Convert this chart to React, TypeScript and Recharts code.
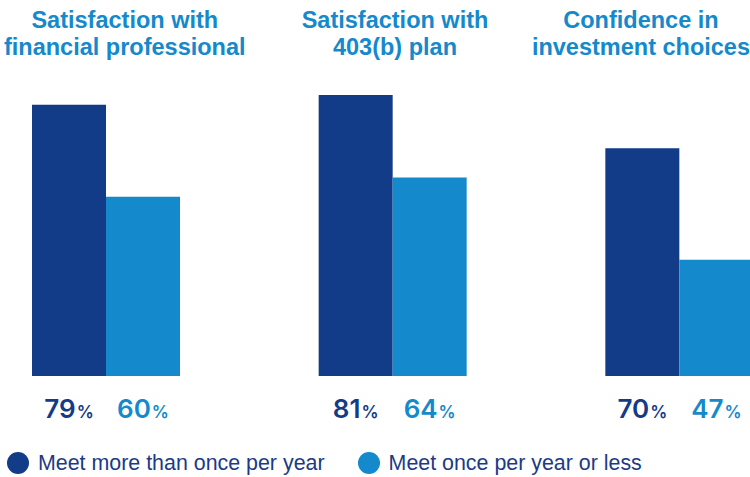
import { BarChart, Bar, XAxis, YAxis, LabelList } from "recharts";

// colours
const DARK = "#123B88";
const LIGHT = "#1489CB";
const LEGEND_TEXT = "#1B3A87";

// data
const categories = [
  "Satisfaction with\nfinancial professional",
  "Satisfaction with\n403(b) plan",
  "Confidence in\ninvestment choices",
];
const moreThanOnce = [79, 81, 70];
const onceOrLess = [60, 64, 47];
const seriesNames = ["Meet more than once per year", "Meet once per year or less"];

const data = categories.map((name, i) => ({
  name,
  more: moreThanOnce[i],
  less: onceOrLess[i],
}));

// chart is wider than the page and shifted left, so the outer bars touch the edges
const PAGE_W = 750;
const SHIFT = 37;
const TITLE_FONT = "bold 23.5px 'Liberation Sans'";

let ctx: CanvasRenderingContext2D | null = null;
function textWidth(s: string, font: string) {
  if (!ctx) ctx = document.createElement("canvas").getContext("2d");
  if (!ctx) return s.length * 12;
  ctx.font = font;
  return ctx.measureText(s).width;
}

// group titles, centred on the group but kept inside the page
function TitleTick(props: any) {
  const { x, payload } = props;
  const lines = String(payload.value).split("\n");
  const w = Math.max(...lines.map((l) => textWidth(l, TITLE_FONT)));
  const lo = SHIFT + 4 + w / 2;
  const hi = SHIFT + PAGE_W - w / 2;
  const cx = Math.min(Math.max(x + 2, lo), hi);
  return (
    <text
      textAnchor="middle"
      fill={LIGHT}
      fontFamily="'Liberation Sans', Arial, sans-serif"
      fontWeight={700}
      fontSize={23.5}
    >
      {lines.map((l, i) => (
        <tspan key={i} x={cx} y={27.5 + i * 27.5}>
          {l}
        </tspan>
      ))}
    </text>
  );
}

// percentage under each bar
const valueLabel = (color: string) => (props: any) => {
  const x = Number(props.x);
  const y = Number(props.y);
  const w = Number(props.width);
  const h = Number(props.height);
  return (
    <text
      x={x + w / 2}
      y={y + h + 42}
      textAnchor="middle"
      fill={color}
      fontFamily="Inter, sans-serif"
      fontWeight={600}
    >
      <tspan fontSize={26}>{props.value}</tspan>
      <tspan fontSize={17} dx={1}>%</tspan>
    </text>
  );
};

export default function App() {
  return (
    <div
      style={{
        position: "absolute",
        left: 0,
        top: 0,
        width: PAGE_W,
        height: 477,
        overflow: "hidden",
        background: "#fff",
      }}
    >
      <div style={{ position: "absolute", left: -SHIFT, top: 0 }}>
        <BarChart
          width={860}
          height={477}
          data={data}
          barGap={0}
          margin={{ top: 3, right: 0, bottom: 100, left: 0 }}
        >
          <XAxis
            dataKey="name"
            height={1}
            axisLine={false}
            tickLine={false}
            interval={0}
            tick={<TitleTick />}
          />
          <YAxis hide domain={[23, 100]} />
          <Bar dataKey="more" fill={DARK} barSize={74} isAnimationActive={false}>
            <LabelList dataKey="more" content={valueLabel(DARK)} />
          </Bar>
          <Bar dataKey="less" fill={LIGHT} barSize={74} isAnimationActive={false}>
            <LabelList dataKey="less" content={valueLabel(LIGHT)} />
          </Bar>
        </BarChart>
      </div>

      {/* legend */}
      <div
        style={{
          position: "absolute",
          left: 7,
          top: 452,
          display: "flex",
          alignItems: "center",
          fontFamily: "'Liberation Sans', Arial, sans-serif",
          fontSize: 21.4,
          color: LEGEND_TEXT,
          lineHeight: "22px",
        }}
      >
        {seriesNames.map((n, i) => (
          <div
            key={n}
            style={{ display: "flex", alignItems: "center", marginLeft: i === 0 ? 0 : 33 }}
          >
            <span
              style={{
                width: 22,
                height: 22,
                borderRadius: "50%",
                background: i === 0 ? DARK : LIGHT,
                marginRight: 9,
                display: "inline-block",
              }}
            />
            <span>{n}</span>
          </div>
        ))}
      </div>
    </div>
  );
}
